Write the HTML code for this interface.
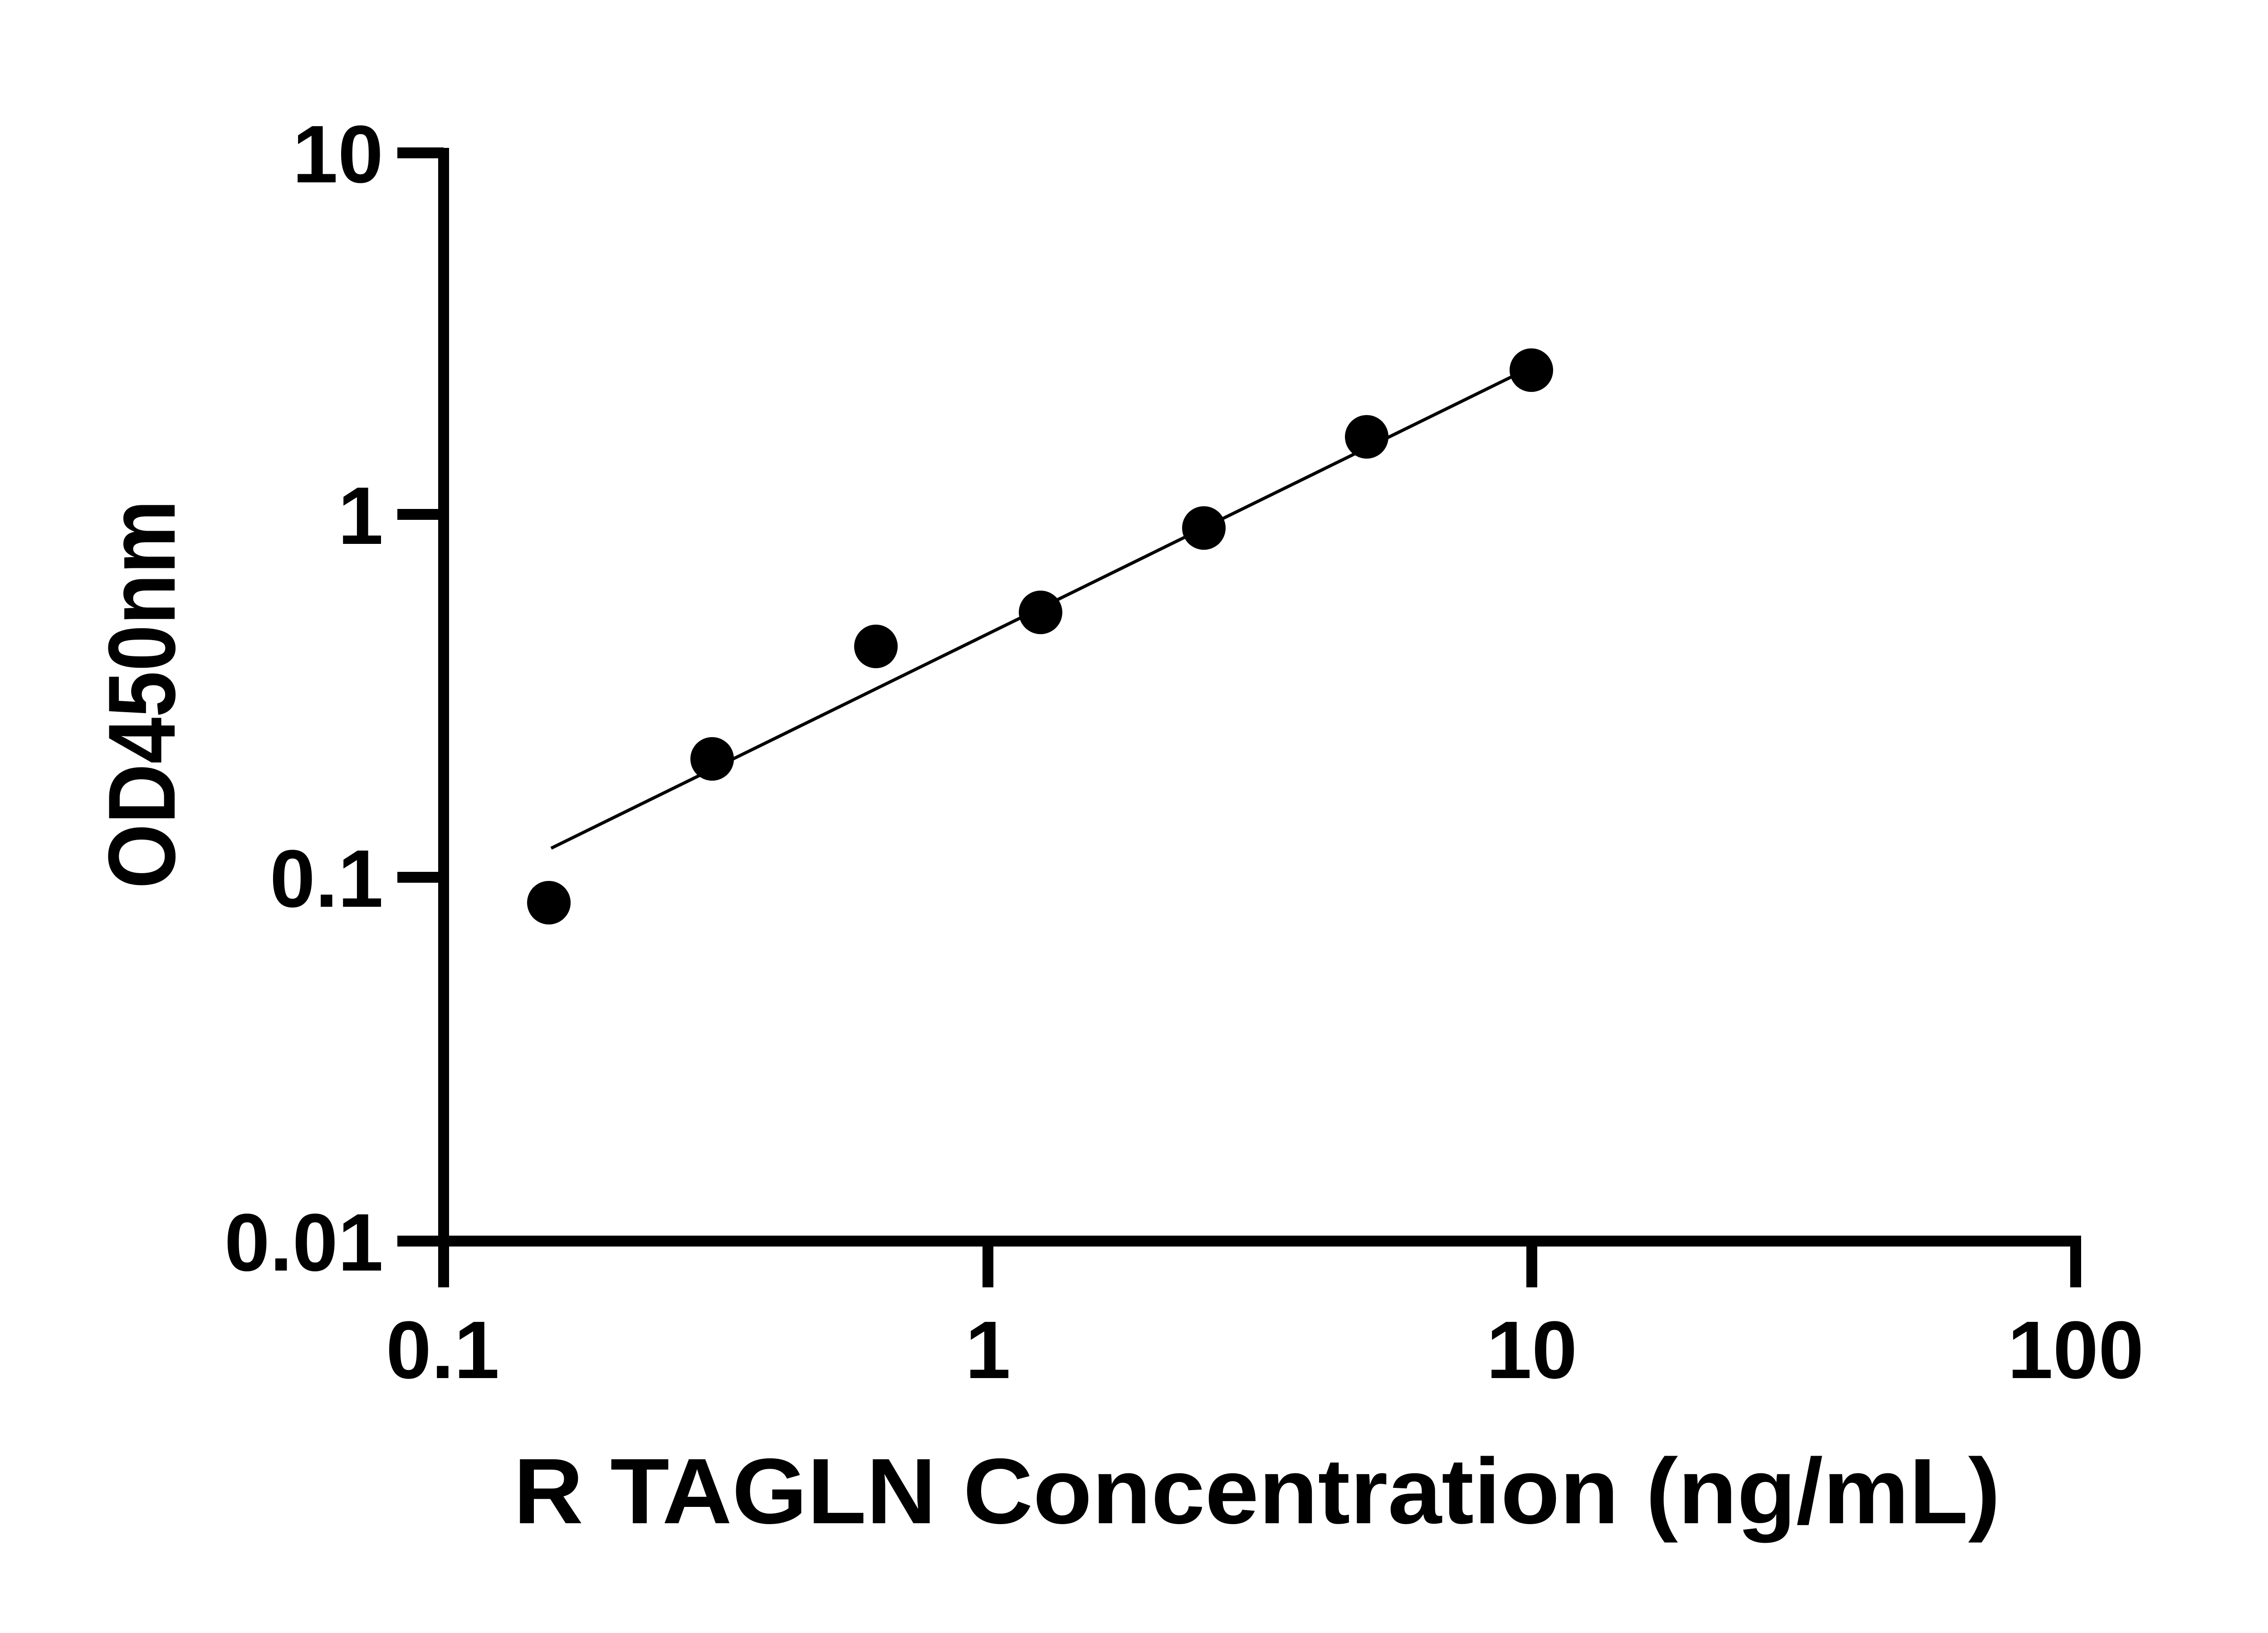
<!DOCTYPE html>
<html><head><style>html,body{margin:0;padding:0;background:#fff}</style></head><body>
<svg width="5130" height="3600" xmlns="http://www.w3.org/2000/svg" style="display:block">
<rect width="5130" height="3600" fill="#fff"/>
<g stroke="#000" stroke-width="24" fill="none">
<line x1="978" y1="326" x2="978" y2="2838"/>
<line x1="966" y1="2736" x2="4588" y2="2736"/>
<line x1="876" y1="337" x2="978" y2="337"/>
<line x1="876" y1="1134" x2="978" y2="1134"/>
<line x1="876" y1="1934" x2="978" y2="1934"/>
<line x1="876" y1="2736" x2="978" y2="2736"/>
<line x1="2178" y1="2736" x2="2178" y2="2838"/>
<line x1="3377" y1="2736" x2="3377" y2="2838"/>
<line x1="4576" y1="2724" x2="4576" y2="2838"/>
</g>
<line x1="1215" y1="1870" x2="3340" y2="827" stroke="#000" stroke-width="7"/>
<g fill="#000">
<circle cx="1210" cy="1990" r="48"/>
<circle cx="1570" cy="1673" r="48"/>
<circle cx="1931" cy="1425" r="48"/>
<circle cx="2294" cy="1350" r="48"/>
<circle cx="2654" cy="1164" r="48"/>
<circle cx="3013" cy="963" r="48"/>
<circle cx="3376" cy="816" r="48"/>
</g>
<g font-family="Liberation Sans, sans-serif" font-weight="bold" fill="#000">
<g font-size="180" text-anchor="end">
<text x="845" y="402">10</text>
<text x="845" y="1199">1</text>
<text x="845" y="1999">0.1</text>
<text x="845" y="2801">0.01</text>
</g>
<g font-size="180" text-anchor="middle">
<text x="976" y="3038">0.1</text>
<text x="2178" y="3038">1</text>
<text x="3377" y="3038">10</text>
<text x="4576" y="3038">100</text>
</g>
<text x="1132" y="3358" font-size="205" textLength="3278" lengthAdjust="spacingAndGlyphs">R TAGLN Concentration (ng/mL)</text>
<text transform="translate(385,1959) rotate(-90)" font-size="210" textLength="857" lengthAdjust="spacingAndGlyphs">OD450nm</text>
</g>
</svg>
</body></html>
